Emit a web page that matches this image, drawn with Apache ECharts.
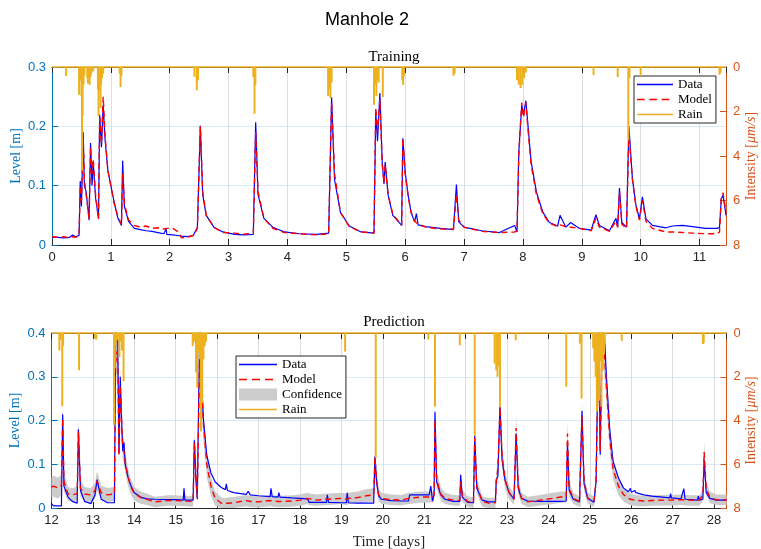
<!DOCTYPE html>
<html>
<head>
<meta charset="utf-8">
<script src="https://cdn.jsdelivr.net/npm/echarts@6/dist/echarts.min.js"></script>
<style>
  html, body { margin: 0; padding: 0; background: #ffffff; }
  #chart { width: 761px; height: 549px; }
</style>
</head>
<body>
<div id="chart"></div>
<script>
// ---------- Training period (days 0 - 11.45) ----------
const tTrain = [
  0.00, 0.10, 0.20, 0.30, 0.35, 0.40, 0.46, 0.48, 0.50, 0.53, 0.55, 0.58, 0.63, 0.655, 0.68, 0.70, 0.74, 0.79, 0.81, 0.84,
  0.87, 0.90, 0.95, 1.00, 1.05, 1.12, 1.18, 1.20, 1.23, 1.30, 1.40, 1.50, 1.60, 1.70, 1.80, 1.90, 1.94, 1.95, 2.05, 2.15,
  2.20, 2.30, 2.40, 2.47, 2.52, 2.56, 2.62, 2.75, 2.90, 3.10, 3.25, 3.42, 3.46, 3.50, 3.60, 3.75, 3.95, 4.20, 4.50, 4.70,
  4.75, 4.80, 4.90, 5.05, 5.25, 5.47, 5.50, 5.53, 5.57, 5.61, 5.64, 5.66, 5.71, 5.79, 5.94, 5.96, 6.00, 6.05, 6.10, 6.16,
  6.19, 6.22, 6.35, 6.60, 6.82, 6.87, 6.91, 7.00, 7.30, 7.60, 7.86, 7.90, 7.93, 7.95, 7.98, 8.01, 8.05, 8.09, 8.14, 8.23,
  8.34, 8.45, 8.59, 8.63, 8.73, 8.81, 8.96, 9.16, 9.24, 9.30, 9.47, 9.58, 9.61, 9.64, 9.68, 9.76, 9.80, 9.86, 9.92, 9.98,
  10.03, 10.09, 10.20, 10.43, 10.54, 10.71, 10.88, 11.10, 11.30, 11.34, 11.37, 11.40, 11.45
];
const levelTrain = [
  0.013, 0.013, 0.012, 0.013, 0.017, 0.014, 0.016, 0.108, 0.065, 0.190, 0.100, 0.090, 0.042, 0.172, 0.100, 0.140, 0.080, 0.045, 0.220, 0.165,
  0.236, 0.180, 0.125, 0.100, 0.075, 0.045, 0.033, 0.142, 0.065, 0.040, 0.028, 0.026, 0.024, 0.023, 0.021, 0.019, 0.027, 0.018, 0.017, 0.016,
  0.015, 0.014, 0.016, 0.030, 0.201, 0.085, 0.050, 0.030, 0.022, 0.018, 0.017, 0.018, 0.207, 0.085, 0.045, 0.030, 0.022, 0.019, 0.018, 0.020,
  0.249, 0.110, 0.055, 0.032, 0.022, 0.020, 0.225, 0.175, 0.256, 0.140, 0.103, 0.140, 0.084, 0.050, 0.033, 0.180, 0.123, 0.084, 0.055, 0.039,
  0.053, 0.034, 0.031, 0.028, 0.026, 0.102, 0.039, 0.030, 0.024, 0.021, 0.033, 0.022, 0.157, 0.188, 0.236, 0.219, 0.243, 0.197, 0.140, 0.089,
  0.055, 0.038, 0.032, 0.050, 0.030, 0.038, 0.028, 0.025, 0.051, 0.033, 0.024, 0.045, 0.030, 0.096, 0.038, 0.030, 0.200, 0.112, 0.067, 0.044,
  0.081, 0.044, 0.033, 0.029, 0.032, 0.033, 0.031, 0.028, 0.028, 0.030, 0.078, 0.084, 0.050
];
const modelTrain = [
  0.014, 0.013, 0.014, 0.012, 0.014, 0.013, 0.015, 0.100, 0.075, 0.180, 0.110, 0.085, 0.045, 0.165, 0.120, 0.145, 0.085, 0.043, 0.215, 0.170,
  0.250, 0.185, 0.125, 0.100, 0.072, 0.048, 0.035, 0.120, 0.070, 0.042, 0.033, 0.030, 0.032, 0.028, 0.029, 0.027, 0.028, 0.026, 0.028, 0.022,
  0.012, 0.013, 0.016, 0.028, 0.200, 0.090, 0.050, 0.030, 0.021, 0.020, 0.018, 0.020, 0.190, 0.090, 0.045, 0.028, 0.021, 0.019, 0.017, 0.019,
  0.240, 0.120, 0.055, 0.031, 0.022, 0.020, 0.232, 0.190, 0.245, 0.135, 0.105, 0.135, 0.085, 0.052, 0.033, 0.180, 0.120, 0.082, 0.055, 0.040,
  0.040, 0.035, 0.030, 0.027, 0.027, 0.085, 0.042, 0.030, 0.023, 0.021, 0.022, 0.025, 0.150, 0.190, 0.240, 0.215, 0.240, 0.190, 0.135, 0.085,
  0.052, 0.037, 0.031, 0.034, 0.031, 0.030, 0.028, 0.024, 0.045, 0.030, 0.023, 0.040, 0.030, 0.090, 0.035, 0.028, 0.190, 0.110, 0.065, 0.042,
  0.075, 0.040, 0.028, 0.022, 0.022, 0.021, 0.020, 0.019, 0.019, 0.022, 0.080, 0.088, 0.055
];
// rain intensity pulses [µm/s] during training
const rainTrainT = [
  0.24, 0.46, 0.48, 0.50, 0.51, 0.52, 0.535, 0.55, 0.60, 0.61, 0.625, 0.64, 0.655, 0.67, 0.70, 0.78, 0.79, 0.80, 0.81, 0.825,
  0.835, 0.85, 0.87, 1.15, 1.165, 1.18, 2.42, 2.46, 2.48, 3.42, 3.44, 3.455, 4.69, 4.71, 4.73, 4.75, 5.47, 5.49, 5.51, 5.53,
  5.55, 5.62, 5.95, 5.965, 5.98, 6.82, 6.84, 7.90, 7.93, 7.96, 7.99, 8.02, 8.05, 9.20, 9.61, 9.79, 9.81, 10.00, 11.34, 11.36
];
const rainTrainV = [
  0.40, 1.25, 0.60, 1.30, 4.65, 2.20, 0.80, 0.40, 0.50, 0.75, 0.55, 0.80, 0.45, 0.30, 0.20, 1.00, 2.20, 0.95, 1.10, 1.85,
  0.80, 0.50, 0.30, 0.30, 0.90, 0.40, 0.44, 1.05, 0.60, 0.45, 2.10, 0.80, 1.30, 1.00, 1.40, 0.70, 1.70, 0.80, 1.30, 0.60,
  0.70, 1.35, 0.60, 0.80, 0.40, 0.40, 0.30, 0.60, 0.80, 0.95, 0.80, 0.50, 0.25, 0.36, 0.45, 3.30, 0.50, 0.40, 0.35, 0.25
];

// ---------- Prediction period (days 12 - 28.3) ----------
const tPred = [
  12.00, 12.05, 12.15, 12.24, 12.27, 12.30, 12.40, 12.50, 12.62, 12.65, 12.70, 12.80, 12.95, 13.05, 13.10, 13.20, 13.35, 13.52, 13.55, 13.60,
  13.63, 13.66, 13.70, 13.72, 13.75, 13.78, 13.85, 13.92, 14.00, 14.15, 14.30, 14.50, 14.80, 15.00, 15.18, 15.20, 15.22, 15.42, 15.45, 15.49,
  15.52, 15.58, 15.62, 15.67, 15.75, 15.85, 15.95, 16.10, 16.20, 16.22, 16.25, 16.40, 16.70, 16.75, 16.80, 17.00, 17.28, 17.30, 17.33, 17.47,
  17.49, 17.52, 17.80, 18.00, 18.18, 18.22, 18.40, 18.64, 18.66, 18.69, 19.00, 19.12, 19.14, 19.17, 19.40, 19.60, 19.78, 19.81, 19.85, 19.90,
  19.97, 20.20, 20.45, 20.62, 20.65, 20.90, 21.12, 21.16, 21.20, 21.24, 21.26, 21.30, 21.40, 21.50, 21.70, 21.86, 21.88, 21.92, 22.05, 22.19,
  22.22, 22.27, 22.40, 22.55, 22.72, 22.74, 22.78, 22.83, 22.88, 22.95, 23.05, 23.17, 23.22, 23.27, 23.35, 23.50, 23.80, 24.10, 24.30, 24.43,
  24.46, 24.50, 24.60, 24.75, 24.78, 24.81, 24.86, 24.95, 25.10, 25.15, 25.18, 25.21, 25.25, 25.30, 25.36, 25.40, 25.48, 25.56, 25.69, 25.81,
  25.93, 25.98, 26.00, 26.09, 26.11, 26.30, 26.50, 26.75, 26.93, 26.95, 26.97, 27.20, 27.27, 27.30, 27.60, 27.62, 27.65, 27.73, 27.76, 27.81,
  27.90, 28.05, 28.30
];
const levelPred = [
  0.010, 0.005, 0.005, 0.005, 0.214, 0.050, 0.025, 0.015, 0.011, 0.180, 0.040, 0.015, 0.010, 0.030, 0.065, 0.020, 0.012, 0.012, 0.420, 0.380,
  0.125, 0.300, 0.180, 0.130, 0.150, 0.100, 0.070, 0.050, 0.035, 0.025, 0.021, 0.020, 0.019, 0.019, 0.018, 0.045, 0.018, 0.018, 0.155, 0.060,
  0.020, 0.420, 0.300, 0.200, 0.120, 0.080, 0.060, 0.047, 0.042, 0.055, 0.040, 0.035, 0.031, 0.038, 0.030, 0.028, 0.026, 0.045, 0.026, 0.025,
  0.035, 0.025, 0.023, 0.022, 0.021, 0.013, 0.013, 0.013, 0.030, 0.013, 0.012, 0.012, 0.035, 0.012, 0.011, 0.011, 0.011, 0.118, 0.061, 0.027,
  0.020, 0.017, 0.016, 0.016, 0.030, 0.030, 0.030, 0.050, 0.016, 0.030, 0.220, 0.060, 0.030, 0.020, 0.015, 0.015, 0.076, 0.025, 0.013, 0.012,
  0.165, 0.045, 0.018, 0.014, 0.014, 0.065, 0.072, 0.237, 0.110, 0.065, 0.035, 0.020, 0.170, 0.045, 0.022, 0.016, 0.015, 0.015, 0.015, 0.016,
  0.149, 0.040, 0.020, 0.014, 0.014, 0.222, 0.055, 0.022, 0.013, 0.060, 0.236, 0.420, 0.122, 0.420, 0.380, 0.300, 0.180, 0.107, 0.069, 0.046,
  0.037, 0.045, 0.036, 0.040, 0.035, 0.030, 0.027, 0.025, 0.023, 0.033, 0.023, 0.021, 0.044, 0.020, 0.018, 0.027, 0.018, 0.020, 0.110, 0.035,
  0.022, 0.018, 0.018
];
const modelPred = [
  0.048, 0.050, 0.046, 0.052, 0.205, 0.060, 0.032, 0.030, 0.033, 0.175, 0.045, 0.032, 0.030, 0.040, 0.062, 0.035, 0.030, 0.032, 0.360, 0.330,
  0.120, 0.280, 0.180, 0.140, 0.130, 0.105, 0.070, 0.048, 0.033, 0.024, 0.020, 0.014, 0.017, 0.017, 0.016, 0.017, 0.016, 0.015, 0.150, 0.070,
  0.025, 0.360, 0.290, 0.190, 0.100, 0.050, 0.022, 0.011, 0.010, 0.010, 0.011, 0.012, 0.017, 0.016, 0.015, 0.014, 0.017, 0.017, 0.016, 0.015,
  0.015, 0.015, 0.016, 0.018, 0.022, 0.020, 0.018, 0.020, 0.020, 0.020, 0.022, 0.020, 0.020, 0.022, 0.024, 0.028, 0.030, 0.115, 0.065, 0.030,
  0.022, 0.019, 0.018, 0.022, 0.022, 0.025, 0.025, 0.026, 0.024, 0.030, 0.200, 0.065, 0.032, 0.022, 0.018, 0.017, 0.060, 0.028, 0.015, 0.012,
  0.160, 0.050, 0.015, 0.011, 0.012, 0.060, 0.090, 0.230, 0.120, 0.065, 0.035, 0.020, 0.183, 0.050, 0.022, 0.014, 0.018, 0.022, 0.025, 0.025,
  0.170, 0.045, 0.022, 0.015, 0.015, 0.210, 0.060, 0.022, 0.015, 0.060, 0.220, 0.380, 0.130, 0.390, 0.340, 0.280, 0.160, 0.090, 0.050, 0.031,
  0.022, 0.020, 0.019, 0.018, 0.017, 0.016, 0.017, 0.018, 0.018, 0.018, 0.018, 0.019, 0.019, 0.018, 0.017, 0.017, 0.018, 0.030, 0.128, 0.045,
  0.024, 0.019, 0.019
];
// half-width of the model confidence band [m]
const confHalfPred = [
  0.022, 0.024, 0.024, 0.024, 0.035, 0.022, 0.016, 0.015, 0.016, 0.030, 0.018, 0.016, 0.016, 0.018, 0.022, 0.016, 0.016, 0.016, 0.045, 0.045,
  0.030, 0.040, 0.030, 0.028, 0.028, 0.025, 0.020, 0.018, 0.015, 0.014, 0.013, 0.012, 0.012, 0.012, 0.012, 0.012, 0.012, 0.012, 0.030, 0.020,
  0.015, 0.045, 0.040, 0.035, 0.030, 0.022, 0.016, 0.013, 0.013, 0.013, 0.013, 0.013, 0.013, 0.013, 0.013, 0.013, 0.013, 0.013, 0.013, 0.013,
  0.013, 0.013, 0.013, 0.013, 0.013, 0.013, 0.013, 0.013, 0.013, 0.013, 0.013, 0.013, 0.013, 0.013, 0.014, 0.015, 0.015, 0.030, 0.020, 0.015,
  0.013, 0.012, 0.012, 0.013, 0.013, 0.013, 0.013, 0.013, 0.013, 0.015, 0.030, 0.020, 0.015, 0.013, 0.012, 0.012, 0.020, 0.013, 0.012, 0.012,
  0.030, 0.018, 0.012, 0.012, 0.012, 0.020, 0.025, 0.035, 0.025, 0.020, 0.015, 0.013, 0.030, 0.018, 0.013, 0.012, 0.012, 0.013, 0.013, 0.013,
  0.030, 0.018, 0.013, 0.012, 0.012, 0.035, 0.020, 0.013, 0.012, 0.020, 0.035, 0.045, 0.030, 0.045, 0.045, 0.040, 0.030, 0.025, 0.020, 0.016,
  0.014, 0.013, 0.013, 0.013, 0.013, 0.012, 0.012, 0.012, 0.012, 0.012, 0.012, 0.012, 0.012, 0.012, 0.012, 0.012, 0.012, 0.013, 0.025, 0.016,
  0.013, 0.012, 0.012
];
// rain intensity pulses [µm/s] during prediction
const rainPredT = [
  12.19, 12.22, 12.26, 12.28, 12.665, 13.05, 13.08, 13.51, 13.53, 13.55, 13.57, 13.60, 13.62, 13.64, 13.66, 13.70, 13.74, 15.41, 15.44, 15.49,
  15.52, 15.55, 15.58, 15.61, 15.64, 15.67, 15.70, 15.73, 19.09, 19.83, 21.10, 21.26, 21.86, 22.22, 22.70, 22.74, 22.77, 22.80, 22.83, 23.21,
  24.43, 24.76, 24.80, 25.08, 25.11, 25.14, 25.17, 25.19, 25.22, 25.25, 25.28, 25.31, 25.34, 25.36, 25.77, 27.73, 27.75
];
const rainPredV = [
  0.80, 0.30, 3.35, 0.60, 1.70, 0.25, 0.30, 4.20, 1.60, 0.55, 0.35, 0.30, 0.20, 1.10, 0.40, 0.80, 2.20, 0.60, 0.40, 1.80,
  2.50, 0.90, 1.20, 4.50, 3.20, 1.20, 0.60, 0.40, 0.85, 5.70, 0.30, 3.37, 0.56, 4.70, 1.40, 1.70, 2.00, 1.50, 3.40, 0.33,
  2.46, 0.49, 3.00, 0.70, 1.30, 2.00, 3.60, 1.50, 3.10, 1.30, 3.37, 1.70, 1.00, 0.50, 0.36, 0.50, 0.45
];

// ---------- styling ----------
const C_LEVEL = '#0072BD';
const C_RAIN_AX = '#D95319';
const C_DATA = '#0000FF';
const C_MODEL = '#FF0000';
const C_RAIN = '#EDB120';
const C_CONF = '#CCCCCC';
const C_AXIS = '#262626';
const SANS = '"Liberation Sans", Arial, sans-serif';
const SERIF = '"Liberation Serif", "Times New Roman", serif';
// legend glyphs: thin solid stroke, dashed stroke (the leading moves fix the glyph box)
const SOLID_ICON = 'path://M0,0M38,12M0,5.2L38,5.2L38,6.8L0,6.8Z';
const DASH_ICON = 'path://M0,0M38,12M0,5.2h8v1.6h-8z M13,5.2h8v1.6h-8z M26,5.2h8v1.6h-8z';

const pairs = (xs, ys) => xs.map((x, i) => [x, ys[i]]);

function xAxes(gridIndex, min, max, withName) {
  return [
    {
      type: 'value', gridIndex, position: 'bottom', min, max, interval: 1,
      axisLine: { onZero: false, lineStyle: { color: C_AXIS, width: 1 } },
      axisTick: { inside: true, length: 6, lineStyle: { color: C_AXIS } },
      axisLabel: { color: C_AXIS, fontFamily: SANS, fontSize: 13, margin: 6, showMaxLabel: false },
      splitLine: { show: true, lineStyle: { color: '#DEDEDE', width: 1 } },
      name: withName ? 'Time [days]' : '', nameLocation: 'middle', nameGap: 27,
      nameTextStyle: { color: C_AXIS, fontFamily: SERIF, fontSize: 15 }
    },
    {
      type: 'value', gridIndex, position: 'top', min, max, interval: 1,
      axisLine: { onZero: false, lineStyle: { color: C_AXIS, width: 1 } },
      axisTick: { inside: true, length: 6, lineStyle: { color: C_AXIS } },
      axisLabel: { show: false }, splitLine: { show: false }
    }
  ];
}

function yAxes(gridIndex, maxLevel) {
  return [
    {
      type: 'value', gridIndex, position: 'left', min: 0, max: maxLevel, interval: 0.1,
      axisLine: { show: true, onZero: false, lineStyle: { color: C_LEVEL, width: 1 } },
      axisTick: { show: true, inside: true, length: 6, lineStyle: { color: C_LEVEL } },
      axisLabel: { color: C_LEVEL, fontFamily: SANS, fontSize: 13, margin: 6 },
      splitLine: { show: true, lineStyle: { color: '#D9EAF5', width: 1 } },
      name: 'Level [m]', nameLocation: 'middle', nameGap: 29, nameRotate: 90, nameMoveOverlap: false,
      nameTextStyle: { color: C_LEVEL, fontFamily: SERIF, fontSize: 14 }
    },
    {
      type: 'value', gridIndex, position: 'right', min: 0, max: 8, interval: 2, inverse: true,
      axisLine: { show: true, onZero: false, lineStyle: { color: C_RAIN_AX, width: 1 } },
      axisTick: { show: true, inside: true, length: 6, lineStyle: { color: C_RAIN_AX } },
      axisLabel: { color: C_RAIN_AX, fontFamily: SANS, fontSize: 13, margin: 7 },
      splitLine: { show: false },
      name: 'Intensity [{i|μm/s}]', nameLocation: 'middle', nameGap: 18, nameRotate: 90, nameMoveOverlap: false,
      nameTextStyle: {
        color: C_RAIN_AX, fontFamily: SERIF, fontSize: 14,
        rich: { i: { color: C_RAIN_AX, fontFamily: SERIF, fontSize: 14, fontStyle: 'italic' } }
      }
    }
  ];
}

function levelSeries(xi, yi, ts, data, model) {
  return [
    {
      name: 'Data', type: 'line', xAxisIndex: xi, yAxisIndex: yi, data: pairs(ts, data),
      symbol: 'none', lineStyle: { color: C_DATA, width: 1.2 }, itemStyle: { color: C_DATA },
      z: 3, animation: false
    },
    {
      name: 'Model', type: 'line', xAxisIndex: xi, yAxisIndex: yi, data: pairs(ts, model),
      symbol: 'none', lineStyle: { color: C_MODEL, width: 1.4, type: [6, 4] }, itemStyle: { color: C_MODEL },
      z: 4, animation: false
    }
  ];
}

function rainSeries(xi, yi, ts, vs) {
  return {
    name: 'Rain', type: 'bar', xAxisIndex: xi, yAxisIndex: yi, data: pairs(ts, vs),
    barWidth: 2, itemStyle: { color: C_RAIN }, z: 5, animation: false,
    markLine: {
      silent: true, symbol: 'none', animation: false,
      label: { show: false },
      lineStyle: { color: C_RAIN, width: 1.6, type: 'solid' },
      data: [{ yAxis: 0 }]
    }
  };
}

const confSeries = {
  name: 'Confidence', type: 'custom', xAxisIndex: 2, yAxisIndex: 2,
  data: pairs(tPred, modelPred), itemStyle: { color: C_CONF }, z: 2, animation: false,
  encode: { x: 0, y: 1 },
  renderItem: function (params, api) {
    if (params.dataIndex !== 0) return null;
    const upper = [], lower = [];
    for (let i = 0; i < tPred.length; i++) {
      const hi = Math.min(0.4, modelPred[i] + confHalfPred[i]);
      const lo = Math.max(0, modelPred[i] - confHalfPred[i]);
      upper.push(api.coord([tPred[i], hi]));
      lower.push(api.coord([tPred[i], lo]));
    }
    return {
      type: 'polygon',
      shape: { points: upper.concat(lower.reverse()) },
      style: { fill: C_CONF }
    };
  }
};

const legendBase = {
  orient: 'vertical', backgroundColor: '#FFFFFF', borderColor: C_AXIS, borderWidth: 1,
  borderRadius: 0, itemGap: 2, itemHeight: 12, itemWidth: 38,
  textStyle: { color: '#000000', fontFamily: SERIF, fontSize: 13 },
  selectedMode: false
};
const legendItems = {
  data: { name: 'Data', icon: SOLID_ICON },
  model: { name: 'Model', icon: DASH_ICON },
  conf: { name: 'Confidence', icon: 'rect' },
  rain: { name: 'Rain', icon: SOLID_ICON, itemStyle: { color: C_RAIN } }
};

const option = {
  backgroundColor: '#FFFFFF',
  animation: false,
  title: [
    { text: 'Manhole 2', left: 362, top: 6, textAlign: 'center',
      textStyle: { fontFamily: SANS, fontSize: 18, fontWeight: 'normal', color: '#000000' } },
    { text: 'Training', left: 389, top: 45, textAlign: 'center',
      textStyle: { fontFamily: SERIF, fontSize: 15, fontWeight: 'normal', color: '#000000' } },
    { text: 'Prediction', left: 389, top: 310, textAlign: 'center',
      textStyle: { fontFamily: SERIF, fontSize: 15, fontWeight: 'normal', color: '#000000' } }
  ],
  grid: [
    { left: 52, top: 67, width: 674, height: 178, outerBoundsMode: 'none', containLabel: false },
    { left: 51.5, top: 333, width: 675, height: 175, outerBoundsMode: 'none', containLabel: false }
  ],
  xAxis: [...xAxes(0, 0, 11.45, false), ...xAxes(1, 12, 28.3, true)],
  yAxis: [...yAxes(0, 0.3), ...yAxes(1, 0.4)],
  legend: [
    Object.assign({}, legendBase, {
      left: 634, top: 76, padding: [2, 4, 2, 3], itemWidth: 36,
      data: [legendItems.data, legendItems.model, legendItems.rain]
    }),
    Object.assign({}, legendBase, {
      left: 236, top: 356, padding: [2, 4, 2, 3],
      data: [legendItems.data, legendItems.model, legendItems.conf, legendItems.rain]
    })
  ],
  series: [
    ...levelSeries(0, 0, tTrain, levelTrain, modelTrain),
    rainSeries(0, 1, rainTrainT, rainTrainV),
    confSeries,
    ...levelSeries(2, 2, tPred, levelPred, modelPred),
    rainSeries(2, 3, rainPredT, rainPredV)
  ]
};

const chart = echarts.init(document.getElementById('chart'), null, { renderer: 'canvas' });
chart.setOption(option);
</script>
</body>
</html>
